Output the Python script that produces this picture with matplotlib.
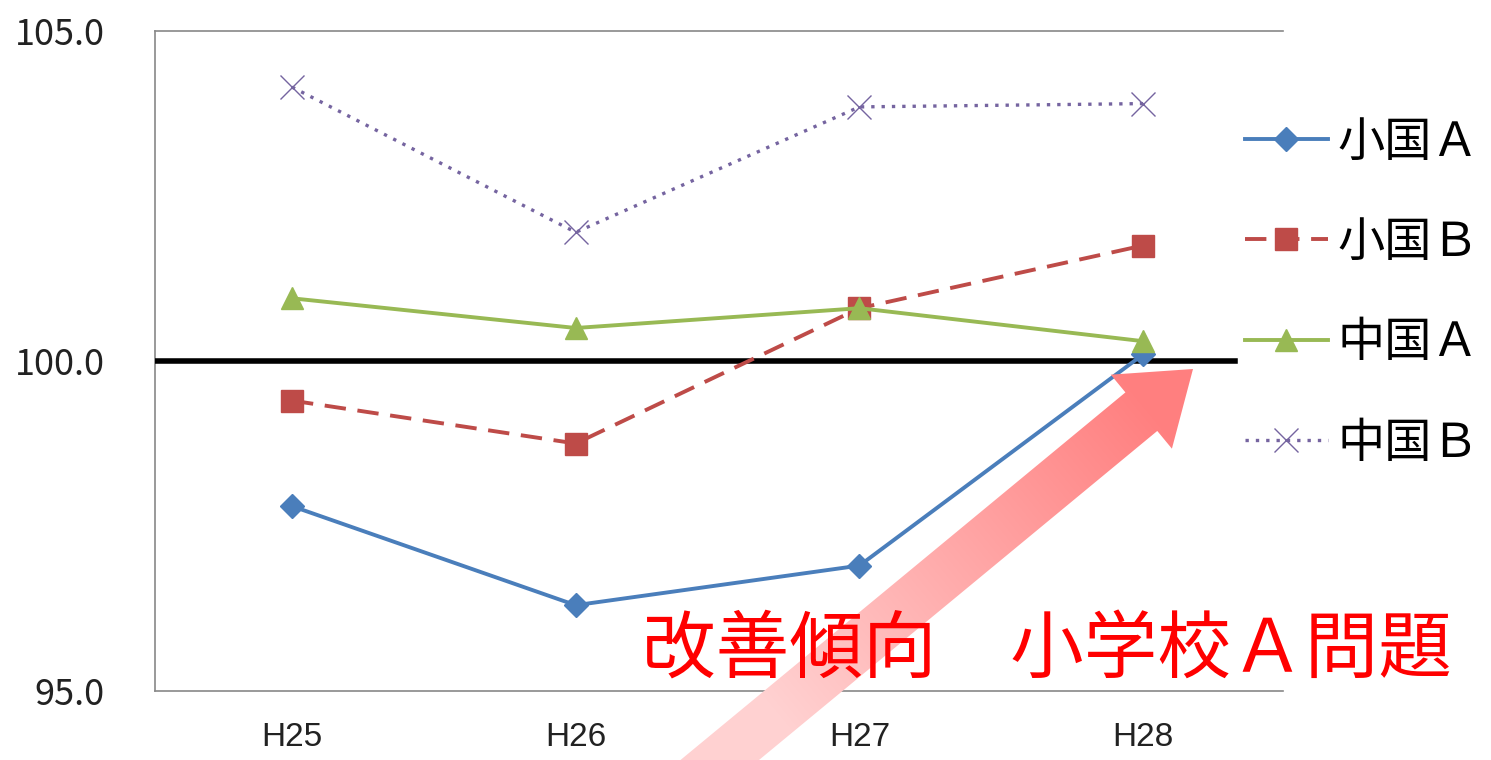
import numpy as np
import matplotlib
matplotlib.use("Agg")
import matplotlib.pyplot as plt
from matplotlib.patches import Polygon

plt.rcParams['font.family'] = ['Noto Sans CJK JP', 'DejaVu Sans']

# ---- data ----
years = ['H25', 'H26', 'H27', 'H28']
sho_A = [97.8, 96.3, 96.9, 100.1]
sho_B = [99.4, 98.75, 100.8, 101.75]
chu_A = [100.95, 100.5, 100.8, 100.3]
chu_B = [104.15, 101.95, 103.85, 103.9]
labels = ['小国Ａ', '小国Ｂ', '中国Ａ', '中国Ｂ']
yticks = [95.0, 100.0, 105.0]
title_text = '改善傾向　小学校Ａ問題'

W, H = 1491, 760
fig = plt.figure(figsize=(W / 100, H / 100), dpi=100)
ax = fig.add_axes([155 / W, (H - 691) / H, 1128 / W, 660 / H])

x = np.arange(len(years))
l1, = ax.plot(x, sho_A, color='#4A7EBB', lw=2.8, marker='D', ms=12,
              label=labels[0], zorder=5)
l2, = ax.plot(x, sho_B, color='#BE4B48', lw=2.8, dashes=(5.5, 3), marker='s',
              ms=16, label=labels[1], zorder=5)
l3, = ax.plot(x, chu_A, color='#98B954', lw=2.8, marker='^', ms=16,
              label=labels[2], zorder=5)
l4, = ax.plot(x, chu_B, color='#7564A0', lw=2.4, linestyle=(0, (1, 2.1)),
              marker='x', ms=17, mew=1.0, label=labels[3], zorder=5)

ax.set_xlim(-0.483, 3.493)
ax.set_ylim(95, 105)
ax.set_xticks(x)
ax.set_xticklabels(years, fontsize=24, color='#222222', family='Liberation Sans')
ax.set_yticks(yticks)
ax.set_yticklabels([f'{v:.1f}' for v in yticks], fontsize=26, color='#222222')
ax.tick_params(axis='both', length=0)
ax.tick_params(axis='y', pad=36)
ax.tick_params(axis='x', pad=22)
for s in ['left', 'top', 'bottom']:
    ax.spines[s].set_color('#888888')
    ax.spines[s].set_linewidth(1.2)
ax.spines['right'].set_visible(False)

# black reference line at 100
ax.axhline(100.0, xmin=2 / 1128, xmax=1080 / 1128, color='black', lw=4, zorder=4)

leg = ax.legend(handles=[l1, l2, l3, l4], loc='upper left',
                bbox_to_anchor=(1245 / W, (H - 118) / H), bbox_transform=fig.transFigure,
                frameon=False, fontsize=34, handlelength=1.75, handletextpad=0.2,
                labelspacing=1.1, borderpad=0, borderaxespad=0)

# ---- gradient arrow (annotation) ----
tip = np.array([1193.0, 369.0])
d = np.array([-0.771, 0.637])          # from tip toward tail (pixel coords, y down)
p = np.array([0.637, 0.771])           # perpendicular
head_len, head_half, shaft_half, total = 67, 48, 25, 720
pts_px = [tip,
          tip + head_len * d - head_half * p,
          tip + head_len * d - shaft_half * p,
          tip + total * d - shaft_half * p,
          tip + total * d + shaft_half * p,
          tip + head_len * d + shaft_half * p,
          tip + head_len * d + head_half * p]
pts_fig = [(q[0] / W, (H - q[1]) / H) for q in pts_px]

oax = fig.add_axes([0, 0, 1, 1], zorder=10)
oax.set_xlim(0, 1)
oax.set_ylim(0, 1)
oax.axis('off')
oax.patch.set_alpha(0)
gx, gy = np.meshgrid(np.arange(W), np.arange(H))
along = (gx - tip[0]) * d[0] + (gy - tip[1]) * d[1]
t = np.clip((along - 60) / 480.0, 0, 1)
c0 = np.array([1.0, 0.50, 0.50])
c1 = np.array([1.0, 0.82, 0.82])
img = c0[None, None, :] * (1 - t[..., None]) + c1[None, None, :] * t[..., None]
im = oax.imshow(img, extent=(0, 1, 0, 1), origin='upper', aspect='auto',
                interpolation='bilinear')
poly = Polygon(pts_fig, closed=True, transform=oax.transAxes, facecolor='none',
               edgecolor='none')
oax.add_patch(poly)
im.set_clip_path(poly)

fig.text(1047 / W, (H - 652) / H, title_text, color='#FF0000', fontsize=53,
         ha='center', va='center', zorder=20)

fig.savefig('out.png', dpi=100)
